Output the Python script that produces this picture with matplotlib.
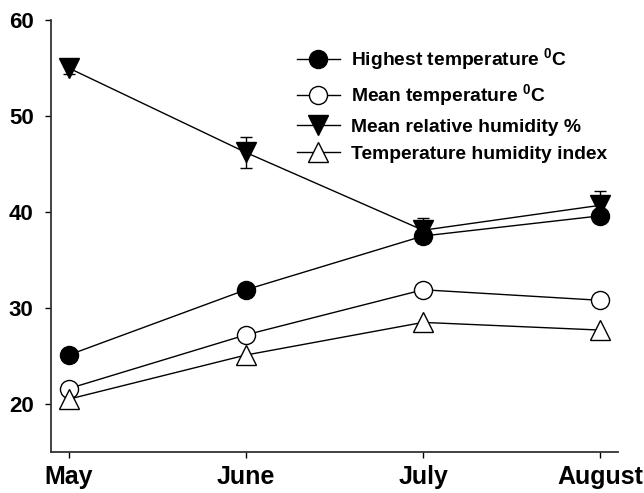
import numpy as np
import matplotlib
matplotlib.use("Agg")
import matplotlib.pyplot as plt

plt.rcParams['font.family'] = ['Liberation Sans', 'DejaVu Sans']
plt.rcParams['font.weight'] = 'bold'
plt.rcParams['mathtext.fontset'] = 'custom'
plt.rcParams['mathtext.rm'] = 'Liberation Sans:bold'
plt.rcParams['mathtext.bf'] = 'Liberation Sans:bold'

months = ['May', 'June', 'July', 'August']
highest_temp = [25.1, 31.9, 37.5, 39.6]
mean_temp = [21.6, 27.2, 31.9, 30.8]
humidity = [55.0, 46.2, 38.1, 40.7]
humidity_err = [0.6, 1.6, 1.3, 1.5]
thi = [20.5, 25.1, 28.5, 27.7]

x = np.arange(len(months))

fig = plt.figure(figsize=(6.44, 4.93), dpi=100)
ax = fig.add_axes([0.0792, 0.0832, 0.8804, 0.8762])

lw = 1.0
ms = 13
h1, = ax.plot(x, highest_temp, color='black', lw=lw, marker='o', ms=ms,
              mfc='black', mec='black', zorder=3)
h2, = ax.plot(x, mean_temp, color='black', lw=lw, marker='o', ms=ms,
              mfc='white', mec='black', mew=1.0, zorder=3)
eb = ax.errorbar(x, humidity, yerr=humidity_err, color='black', lw=lw, marker='v', ms=ms + 1,
                 mfc='black', mec='black', capsize=4.5, capthick=1.0, elinewidth=1.0,
                 zorder=4)
h4, = ax.plot(x, thi, color='black', lw=lw, marker='^', ms=ms + 1,
              mfc='white', mec='black', mew=1.0, zorder=3)

ax.set_xlim(-0.1, 3.1)
ax.set_ylim(15, 60)
ax.set_yticks([20, 30, 40, 50, 60])
ax.set_xticks(x)
ax.set_xticklabels(months)

for s in ['top', 'right']:
    ax.spines[s].set_visible(False)
for s in ['left', 'bottom']:
    ax.spines[s].set_linewidth(1.3)
    ax.spines[s].set_color('#333333')

ax.tick_params(axis='y', direction='out', length=4.5, width=1.0, pad=8, labelsize=16)
ax.tick_params(axis='x', direction='out', length=4.5, width=1.0, pad=5, labelsize=18)

labels = ['Highest temperature $^{0}$C', 'Mean temperature $^{0}$C',
          'Mean relative humidity %', 'Temperature humidity index']
leg = ax.legend([h1, h2, eb[0], h4], labels, loc='upper left', bbox_to_anchor=(0.434, 0.94),
                frameon=False, fontsize=13.9, handlelength=2.2, handletextpad=0.6,
                labelspacing=0.5, borderaxespad=0, borderpad=0)

fig.savefig('out.png', dpi=100, facecolor='white')
